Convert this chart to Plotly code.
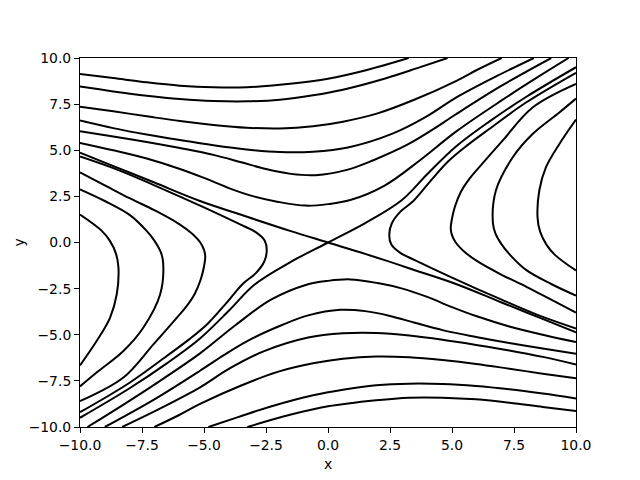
import plotly.graph_objects as go

# ---- contour curves (x, y) ----
# separatrices through the saddle at the origin
S1_x = [-10, -8.5, -7, -5.16, -3.5, -1.53, 0, 1.53, 3.5, 5.16, 7, 8.5, 10]
S1_y = [4.87, 4.06, 3.25, 2.25, 1.5, 0.63, 0, -0.63, -1.5, -2.25, -3.25, -4.06, -4.87]
S2_x = [-10, -8, -6.5, -5.16, -4, -2.97, -1.5, 0, 1.5, 2.97, 4, 5.16, 6.5, 8, 10]
S2_y = [-9.5, -7.9, -6.55, -5.2, -3.7, -2.29, -1.05, 0, 1.05, 2.29, 3.7, 5.2, 6.55, 7.9, 9.5]

# upper sector (left edge -> top edge)
A_x = [-10, -8.66, -7.31, -5.97, -4.62, -3.28, -1.94, 0, 1.53, 3.25]
A_y = [9.13, 8.91, 8.68, 8.50, 8.41, 8.41, 8.55, 8.88, 9.34, 10.0]
B_x = [-10, -8.66, -7.31, -5.97, -4.62, -3.28, -1.94, -0.6, 0.6, 2.34, 3.6, 4.82]
B_y = [8.45, 8.19, 7.96, 7.78, 7.67, 7.65, 7.74, 7.98, 8.28, 8.9, 9.45, 10.0]
C_x = [-10, -8.66, -7.31, -5.97, -4.62, -3.28, -1.94, -0.6, 0.6, 2.0, 3.5, 5.16, 6.0, 7.0]
C_y = [7.36, 7.11, 6.84, 6.58, 6.37, 6.22, 6.18, 6.3, 6.55, 7.0, 7.75, 8.75, 9.35, 10.0]
D_x = [-10, -8.66, -7.31, -5.97, -4.62, -3.28, -1.94, -0.6, 0.8, 2.6, 4.0, 5.16, 6.7, 8.3]
D_y = [6.61, 6.2, 5.85, 5.55, 5.27, 5.04, 4.9, 4.92, 5.15, 5.9, 6.85, 7.85, 8.95, 10.0]
E_x = [-10, -8.66, -7.31, -5.97, -4.62, -3.5, -2.5, -1.5, -0.5, 0.8, 1.83, 3.2, 4.2, 5.16, 7.0, 9.0]
E_y = [6.03, 5.75, 5.45, 5.12, 4.75, 4.35, 3.98, 3.72, 3.65, 3.95, 4.46, 5.3, 6.1, 6.95, 8.5, 10.0]
F_x = [-10, -8.66, -7.31, -6.0, -5.0, -4.0, -3.0, -2.0, -0.9, 0, 0.9, 2.3, 3.71, 5.16, 7.0, 8.5, 9.7]
F_y = [5.40, 5.0, 4.55, 4.0, 3.5, 2.95, 2.5, 2.2, 2.0, 2.08, 2.3, 3.1, 4.46, 6.01, 7.7, 9.0, 10.0]

# lower sector (right edge -> bottom edge)
Ap_x = [10, 8.66, 7.31, 5.97, 4.62, 3.28, 1.94, 0, -1.53, -3.25]
Ap_y = [-9.13, -8.91, -8.68, -8.50, -8.41, -8.41, -8.55, -8.88, -9.34, -10.0]
Bp_x = [10, 8.66, 7.31, 5.97, 4.62, 3.28, 1.94, 0.6, -0.6, -2.34, -3.6, -4.82]
Bp_y = [-8.45, -8.19, -7.96, -7.78, -7.67, -7.65, -7.74, -7.98, -8.28, -8.9, -9.45, -10.0]
Cp_x = [10, 8.66, 7.31, 5.97, 4.62, 3.28, 1.94, 0.6, -0.6, -2.0, -3.5, -5.16, -6.0, -7.0]
Cp_y = [-7.36, -7.11, -6.84, -6.58, -6.37, -6.22, -6.18, -6.3, -6.55, -7.0, -7.75, -8.75, -9.35, -10.0]
Dp_x = [10, 8.66, 7.31, 5.97, 4.62, 3.28, 1.94, 0.6, -0.8, -2.6, -4.0, -5.16, -6.7, -8.3]
Dp_y = [-6.61, -6.2, -5.85, -5.55, -5.27, -5.04, -4.9, -4.92, -5.15, -5.9, -6.85, -7.85, -8.95, -10.0]
Ep_x = [10, 8.66, 7.31, 5.97, 4.62, 3.5, 2.5, 1.5, 0.5, -0.8, -1.83, -3.2, -4.2, -5.16, -7.0, -9.0]
Ep_y = [-6.03, -5.75, -5.45, -5.12, -4.75, -4.35, -3.98, -3.72, -3.65, -3.95, -4.46, -5.3, -6.1, -6.95, -8.5, -10.0]
Fp_x = [10, 8.66, 7.31, 6.0, 5.0, 4.0, 3.0, 2.0, 0.9, 0, -0.9, -2.3, -3.71, -5.16, -7.0, -8.5, -9.7]
Fp_y = [-5.40, -5.0, -4.55, -4.0, -3.5, -2.95, -2.5, -2.2, -2.0, -2.08, -2.3, -3.1, -4.46, -6.01, -7.7, -9.0, -10.0]

# right family (opening to the right)
H1_x = [10, 8, 6.5, 5.6, 4.85, 4.11, 3.44, 2.91, 2.57, 2.47, 2.55, 2.9, 3.5, 5, 7, 8.5, 10]
H1_y = [9.2, 7.6, 6.15, 5.25, 4.4, 3.3, 2.25, 1.66, 1.03, 0.42, -0.1, -0.55, -0.95, -1.9, -3.1, -3.95, -4.66]
H2_x = [10, 8.25, 7.04, 6.1, 5.7, 5.36, 5.12, 5.0, 4.95, 5.0, 5.15, 5.5, 6, 7, 8, 9, 10]
H2_y = [8.6, 7.32, 5.52, 4.08, 3.45, 2.75, 1.95, 1.3, 0.75, 0.4, 0.0, -0.5, -1.0, -1.75, -2.4, -3.1, -3.8]
H3_x = [10, 9.33, 8.25, 7.45, 6.77, 6.65, 6.75, 7.0, 7.34, 8, 9, 10]
H3_y = [7.8, 7.05, 5.88, 4.62, 2.82, 1.05, 0.5, -0.1, -0.67, -1.5, -2.25, -2.88]
H4_x = [10, 9.33, 8.79, 8.52, 8.45, 8.55, 8.8, 9.15, 10]
H4_y = [6.66, 5.34, 4.08, 2.82, 1.35, 0.6, -0.1, -0.67, -1.52]

# left family (opening to the left)
G1_x = [-10, -8, -6.5, -5.6, -4.85, -4.11, -3.44, -2.91, -2.57, -2.47, -2.55, -2.9, -3.5, -5, -7, -8.5, -10]
G1_y = [-9.2, -7.6, -6.15, -5.25, -4.4, -3.3, -2.25, -1.66, -1.03, -0.42, 0.1, 0.55, 0.95, 1.9, 3.1, 3.95, 4.66]
G2_x = [-10, -8.25, -7.04, -6.1, -5.7, -5.36, -5.12, -5.0, -4.95, -5.0, -5.15, -5.5, -6, -7, -8, -9, -10]
G2_y = [-8.6, -7.32, -5.52, -4.08, -3.45, -2.75, -1.95, -1.3, -0.75, -0.4, 0.0, 0.5, 1.0, 1.75, 2.4, 3.1, 3.8]
G3_x = [-10, -9.33, -8.25, -7.45, -6.77, -6.65, -6.75, -7.0, -7.34, -8, -9, -10]
G3_y = [-7.8, -7.05, -5.88, -4.62, -2.82, -1.05, -0.5, 0.1, 0.67, 1.5, 2.25, 2.88]
G4_x = [-10, -9.33, -8.79, -8.52, -8.45, -8.55, -8.8, -9.15, -10]
G4_y = [-6.66, -5.34, -4.08, -2.82, -1.35, -0.6, 0.1, 0.67, 1.52]

curves = [
    (S1_x, S1_y), (S2_x, S2_y),
    (A_x, A_y), (B_x, B_y), (C_x, C_y), (D_x, D_y), (E_x, E_y), (F_x, F_y),
    (Ap_x, Ap_y), (Bp_x, Bp_y), (Cp_x, Cp_y), (Dp_x, Dp_y), (Ep_x, Ep_y), (Fp_x, Fp_y),
    (H1_x, H1_y), (H2_x, H2_y), (H3_x, H3_y), (H4_x, H4_y),
    (G1_x, G1_y), (G2_x, G2_y), (G3_x, G3_y), (G4_x, G4_y),
]

tick_vals = [-10, -7.5, -5, -2.5, 0, 2.5, 5, 7.5, 10]
tick_text = ["\u221210.0", "\u22127.5", "\u22125.0", "\u22122.5", "0.0", "2.5", "5.0", "7.5", "10.0"]

fig = go.Figure()
for cx, cy in curves:
    fig.add_trace(go.Scatter(x=cx, y=cy, mode="lines",
                             line=dict(color="black", width=2, shape="spline", smoothing=1.0),
                             hoverinfo="skip", showlegend=False))

axis_common = dict(range=[-10, 10], showgrid=False, zeroline=False, showline=True,
                   linecolor="black", linewidth=1, mirror=True, ticks="outside",
                   ticklen=5, tickwidth=1, tickcolor="black",
                   tickvals=tick_vals, ticktext=tick_text, automargin=False,
                   tickfont=dict(family="DejaVu Sans", size=13.9, color="black"))

fig.update_layout(
    width=640, height=480,
    margin=dict(l=72, r=72, t=50, b=61, autoexpand=False),
    paper_bgcolor="white", plot_bgcolor="white",
    font=dict(family="DejaVu Sans", size=13.9, color="black"),
    xaxis=axis_common,
    yaxis=axis_common,
    annotations=[
        dict(text="x", xref="paper", yref="paper", x=0.5, y=0, xanchor="center",
             yanchor="top", yshift=-27, showarrow=False,
             font=dict(family="DejaVu Sans", size=13.9, color="black")),
        dict(text="y", xref="paper", yref="paper", x=0, y=0.5, xanchor="center",
             yanchor="middle", xshift=-62, textangle=-90, showarrow=False,
             font=dict(family="DejaVu Sans", size=13.9, color="black")),
    ],
)

fig.write_html("out.html")
